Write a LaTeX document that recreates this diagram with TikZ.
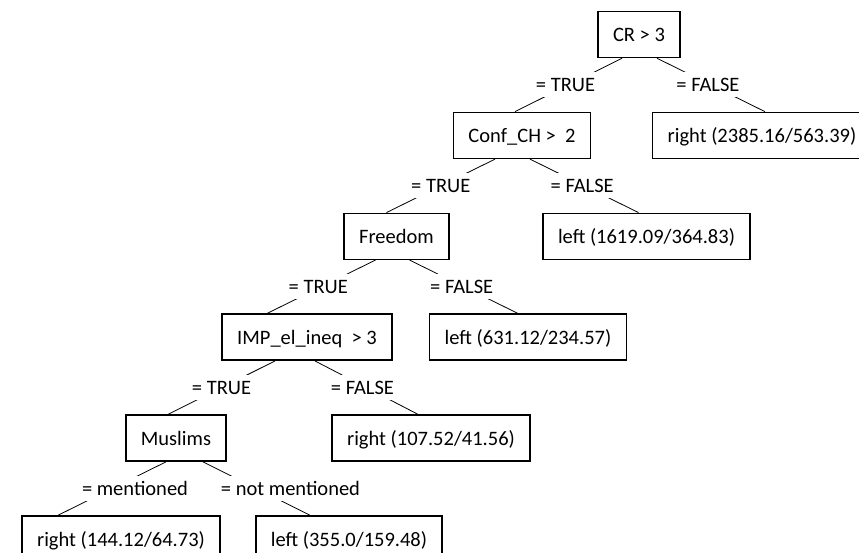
\documentclass[tikz,border=0pt]{standalone}
\usepackage{fontspec}
\setmainfont{Carlito}
\usetikzlibrary{positioning}
\newcommand\vgap{53.4pt}

\begin{document}
\begin{tikzpicture}[x=1pt, y=-1pt,
    font=\fontsize{20.5}{24}\selectfont,
    box/.style={draw, line width=1.5pt, inner xsep=15pt, inner ysep=14pt,
      text height=16pt, text depth=2pt},
    lbl/.style={fill=white, inner xsep=1pt, inner ysep=6pt,
      text height=13pt, text depth=0pt, midway},
    branch/.style={line width=0.8pt}]
  \useasboundingbox (0,0) rectangle (859,552);
  \clip (0,0) rectangle (859,552);
  % tests
  \node[box] (cr) at (639,34.5) {CR > 3};
  \node[box, below=\vgap of cr, xshift=-117pt] (conf) {Conf\_CH >\ \ 2};
  \node[box, below=\vgap of conf, xshift=-125.5pt] (free) {Freedom};
  \node[box, below=\vgap of free, xshift=-89.5pt] (imp) {IMP\_el\_ineq\ \ > 3};
  \node[box, below=\vgap of imp, xshift=-131pt] (mus) {Muslims};
  % leaves
  \node[box, below=\vgap of cr, xshift=123pt] (r2385) {right (2385.16/563.39)};
  \node[box, below=\vgap of conf, xshift=124.5pt] (l1619) {left (1619.09/364.83)};
  \node[box, below=\vgap of free, xshift=131.5pt] (l631) {left (631.12/234.57)};
  \node[box, below=\vgap of imp, xshift=124pt] (r107) {right (107.52/41.56)};
  \node[box, below=\vgap of mus, xshift=-55pt] (r144) {right (144.12/64.73)};
  \node[box, below=\vgap of mus, xshift=173pt] (l355) {left (355.0/159.48)};

  % branches
  \draw[branch] ([xshift=-17pt]cr.south) -- node[lbl, xshift=-3pt] (t1) {= TRUE} ([xshift=-7pt]conf.north);
  \draw[branch] ([xshift=18pt]cr.south) -- node[lbl, xshift=-3pt] (f1) {= FALSE} ([xshift=3pt]r2385.north);
  \draw[branch] ([xshift=-27pt]conf.south) -- node[lbl] (t2) {= TRUE} ([xshift=-10pt]free.north);
  \draw[branch] ([xshift=8pt]conf.south) -- node[lbl, xshift=-2pt] (f2) {= FALSE} ([xshift=-8pt]l1619.north);
  \draw[branch] ([xshift=-21pt]free.south) -- node[lbl, xshift=-3pt] (t3) {= TRUE} ([xshift=-40pt]imp.north);
  \draw[branch] ([xshift=13pt]free.south) -- node[lbl, xshift=-2pt] (f3) {= FALSE} ([xshift=-10pt]l631.north);
  \draw[branch] ([xshift=-32pt]imp.south) -- node[lbl] (t4) {= TRUE} ([xshift=-8pt]mus.north);
  \draw[branch] ([xshift=8pt]imp.south) -- node[lbl, xshift=-4pt] (f4) {= FALSE} ([xshift=-13pt]r107.north);
  \draw[branch] ([xshift=-10pt]mus.south) -- node[lbl, xshift=23pt] (m1) {= mentioned} ([xshift=-63pt]r144.north);
  \draw[branch] ([xshift=27pt]mus.south) -- node[lbl, xshift=34pt] (m2) {= not mentioned} ([xshift=-39pt]l355.north);
\end{tikzpicture}
\end{document}
